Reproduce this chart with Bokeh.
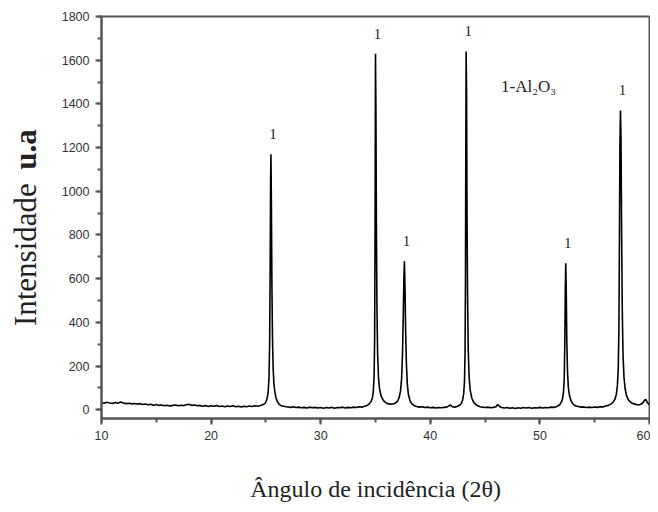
from bokeh.plotting import figure
from bokeh.models import Range1d, SingleIntervalTicker, Label
from bokeh.layouts import row
from bokeh.core.properties import value
from bokeh.embed import file_html
from bokeh.resources import INLINE

# ---- data (2theta in degrees, intensity in a.u.) ----
seg1_x = [10.0, 10.25, 10.5, 10.75, 11.0, 11.25, 11.5, 11.75, 12.0, 12.25, 12.5, 12.75,
          13.0, 13.25, 13.5, 13.75, 14.0, 14.25, 14.5, 14.75, 15.0, 15.25, 15.5, 15.75,
          16.0, 16.25, 16.5, 16.75, 17.0, 17.25, 17.5, 17.75, 18.0, 18.25, 18.5, 18.75,
          19.0, 19.25, 19.5, 19.75, 20.0, 20.25, 20.5, 20.75, 21.0, 21.25, 21.5, 21.75,
          22.0, 22.25, 22.5, 22.75, 23.0, 23.25, 23.5, 23.75, 24.0, 24.25, 24.5]
seg1_y = [32, 30, 34, 31, 29, 33, 30, 35, 31, 28,
          30, 27, 29, 26, 28, 24, 26, 23, 25, 21,
          24, 20, 22, 18, 21, 17, 20, 22, 18, 21,
          19, 23, 25, 20, 22, 18, 20, 16, 19, 15,
          18, 16, 19, 15, 17, 14, 17, 15, 18, 14,
          16, 13, 16, 14, 17, 15, 18, 16, 20]

peak1_x = [24.75, 24.9, 25.0, 25.1, 25.2, 25.28, 25.34, 25.39, 25.43, 25.46, 25.5, 25.55,
           25.6, 25.66, 25.73, 25.82, 25.92, 26.05, 26.2, 26.35]
peak1_y = [24, 28, 36, 50, 80, 140, 300, 650, 1050, 1170, 950, 560,
           330, 190, 120, 80, 55, 38, 26, 20]

seg2_x = [26.5, 26.75, 27.0, 27.25, 27.5, 27.75, 28.0, 28.25, 28.5, 28.75, 29.0, 29.25,
          29.5, 29.75, 30.0, 30.25, 30.5, 30.75, 31.0, 31.25, 31.5, 31.75, 32.0, 32.25,
          32.5, 32.75, 33.0, 33.25, 33.5, 33.75, 34.0, 34.25]
seg2_y = [17, 15, 13, 11, 14, 10, 12, 9, 11, 8,
          12, 9, 11, 8, 10, 7, 10, 8, 11, 7,
          10, 9, 12, 8, 11, 9, 12, 10, 14, 12,
          16, 20]

peak23_x = [34.45, 34.6, 34.72, 34.8, 34.87, 34.92, 34.96, 35.0, 35.04, 35.08, 35.13, 35.19,
            35.27, 35.37, 35.5, 35.65, 35.8, 36.0, 36.2, 36.4, 36.6, 36.8, 37.0, 37.15,
            37.28, 37.38, 37.46, 37.53, 37.59, 37.64, 37.69, 37.75, 37.82, 37.9, 38.0,
            38.15, 38.3, 38.5]
peak23_y = [28, 38, 55, 85, 150, 320, 800, 1630, 1350, 850, 480, 260,
            150, 95, 65, 48, 38, 30, 27, 26, 27, 30, 38, 55,
            85, 140, 250, 420, 600, 680, 560, 360, 210, 120, 70,
            42, 28, 20]

seg3_x = [38.75, 39.0, 39.25, 39.5, 39.75, 40.0, 40.25, 40.5, 40.75, 41.0, 41.25, 41.5,
          41.7, 41.85, 42.0, 42.25, 42.5, 42.7]
seg3_y = [15, 12, 14, 10, 12, 9, 11, 8, 10, 9, 11, 12, 18, 22, 14, 12, 16, 22]

peak4_x = [42.85, 42.95, 43.05, 43.12, 43.17, 43.21, 43.24, 43.27, 43.31, 43.35, 43.4,
           43.46, 43.54, 43.64, 43.78, 43.95, 44.15, 44.35, 44.55]
peak4_y = [30, 45, 75, 130, 260, 600, 1200, 1640, 1450, 900, 520,
           280, 150, 90, 55, 35, 24, 18, 14]

seg4_x = [44.75, 45.0, 45.25, 45.5, 45.75, 46.0, 46.15, 46.3, 46.5, 46.75, 47.0, 47.25,
          47.5, 47.75, 48.0, 48.25, 48.5, 48.75, 49.0, 49.25, 49.5, 49.75, 50.0, 50.25,
          50.5, 50.75, 51.0, 51.25, 51.5, 51.7]
seg4_y = [12, 10, 12, 9, 11, 14, 24, 16, 10, 8,
          10, 7, 9, 6, 9, 7, 10, 8, 10, 7,
          9, 8, 11, 8, 10, 9, 12, 11, 14, 19]

peak5_x = [51.85, 51.97, 52.07, 52.15, 52.22, 52.28, 52.32, 52.36, 52.4, 52.45, 52.52,
           52.6, 52.7, 52.82, 52.96, 53.12, 53.3]
peak5_y = [26, 36, 52, 80, 140, 330, 560, 670, 560, 330, 170,
           100, 65, 44, 30, 22, 17]

seg5_x = [53.5, 53.75, 54.0, 54.25, 54.5, 54.75, 55.0, 55.25, 55.5, 55.75, 56.0, 56.25,
          56.5, 56.7]
seg5_y = [15, 12, 13, 10, 12, 10, 13, 11, 14, 13, 17, 20, 27, 36]

peak6_x = [56.85, 56.97, 57.07, 57.15, 57.21, 57.26, 57.3, 57.35, 57.4, 57.45, 57.51,
           57.58, 57.67, 57.78, 57.9, 58.05, 58.2]
peak6_y = [48, 70, 110, 190, 380, 800, 1200, 1370, 1250, 850, 480,
           260, 150, 95, 65, 48, 38]

seg6_x = [58.4, 58.6, 58.8, 59.0, 59.2, 59.4, 59.55, 59.65, 59.75, 59.85, 60.0]
seg6_y = [30, 27, 24, 22, 25, 32, 44, 48, 38, 30, 24]

# peak markers (phase 1 = Al2O3)
peak_pos = [25.46, 35.0, 37.64, 43.27, 52.36, 57.35]
peak_int = [1170, 1630, 680, 1640, 670, 1370]
peak_lab = ["1", "1", "1", "1", "1", "1"]

x_ticks_major = 10
y_ticks_major = 200

two_theta = seg1_x + peak1_x + seg2_x + peak23_x + seg3_x + peak4_x + seg4_x + peak5_x + seg5_x + peak6_x + seg6_x
intensity = seg1_y + peak1_y + seg2_y + peak23_y + seg3_y + peak4_y + seg4_y + peak5_y + seg5_y + peak6_y + seg6_y

TOP, BOTTOM = 16, 77
yr = Range1d(-40, 1800)

# ---- main figure ----
p = figure(width=600, height=504, x_range=Range1d(10, 60), y_range=yr,
           output_backend="svg", toolbar_location=None,
           min_border_left=51, min_border_right=1, min_border_top=TOP, min_border_bottom=BOTTOM)
p.background_fill_color = "white"
p.border_fill_color = "white"
p.outline_line_color = "#555555"
p.outline_line_width = 2
p.grid.visible = False

p.line(two_theta, intensity, line_color="black", line_width=1.6)

p.text(x=peak_pos, y=peak_int, text=peak_lab, x_offset=2, y_offset=-20,
       text_font=value("Liberation Serif"), text_font_size="14px", text_color="#111111",
       text_align="center", text_baseline="middle")

p.add_layout(Label(x=46.45, y=1478, text="1-Al₂O₃", text_font="Liberation Serif",
                   text_font_size="17px", text_color="#222222", text_baseline="middle"))

for ax in (p.xaxis[0], p.yaxis[0]):
    ax.axis_line_color = "#555555"
    ax.axis_line_width = 2
    ax.major_tick_line_color = "#555555"
    ax.minor_tick_line_color = "#555555"
    ax.major_tick_line_width = 2
    ax.minor_tick_line_width = 2
    ax.major_tick_in = 0
    ax.major_tick_out = 6
    ax.minor_tick_in = 0
    ax.minor_tick_out = 4
    ax.major_label_text_font = "Liberation Sans"
    ax.major_label_text_font_size = "12.5px"
    ax.major_label_text_color = "#333333"
    ax.major_label_standoff = 6

p.xaxis.ticker = SingleIntervalTicker(interval=x_ticks_major, num_minor_ticks=2)
p.yaxis.ticker = SingleIntervalTicker(interval=y_ticks_major, num_minor_ticks=2)

p.xaxis.axis_label = "Ângulo de incidência (2θ)"
p.xaxis.axis_label_text_font = "Liberation Serif"
p.xaxis.axis_label_text_font_style = "normal"
p.xaxis.axis_label_text_font_size = "24px"
p.xaxis.axis_label_text_color = "#222222"
p.xaxis.axis_label_standoff = 33

# ---- narrow panel carrying the y title: "Intensidade" normal + "u.a" bold ----
t = figure(width=50, height=504, x_range=Range1d(0, 50), y_range=yr,
           output_backend="svg", toolbar_location=None,
           min_border_left=0, min_border_right=0, min_border_top=TOP, min_border_bottom=BOTTOM)
t.axis.visible = False
t.grid.visible = False
t.outline_line_color = None
t.background_fill_color = "white"
t.border_fill_color = "white"
t.text(x=[25], y=[710], text=["Intensidade"], angle=1.5708,
       text_font=value("Liberation Serif"), text_font_size="31px", text_color="#222222",
       text_align="center", text_baseline="middle")
t.text(x=[25], y=[1191], text=["u.a"], angle=1.5708,
       text_font=value("Liberation Serif"), text_font_size="31px", text_font_style="bold",
       text_color="#222222", text_align="center", text_baseline="middle")

layout = row(t, p, spacing=0)
open("out.html", "w").write(file_html(layout, INLINE))
